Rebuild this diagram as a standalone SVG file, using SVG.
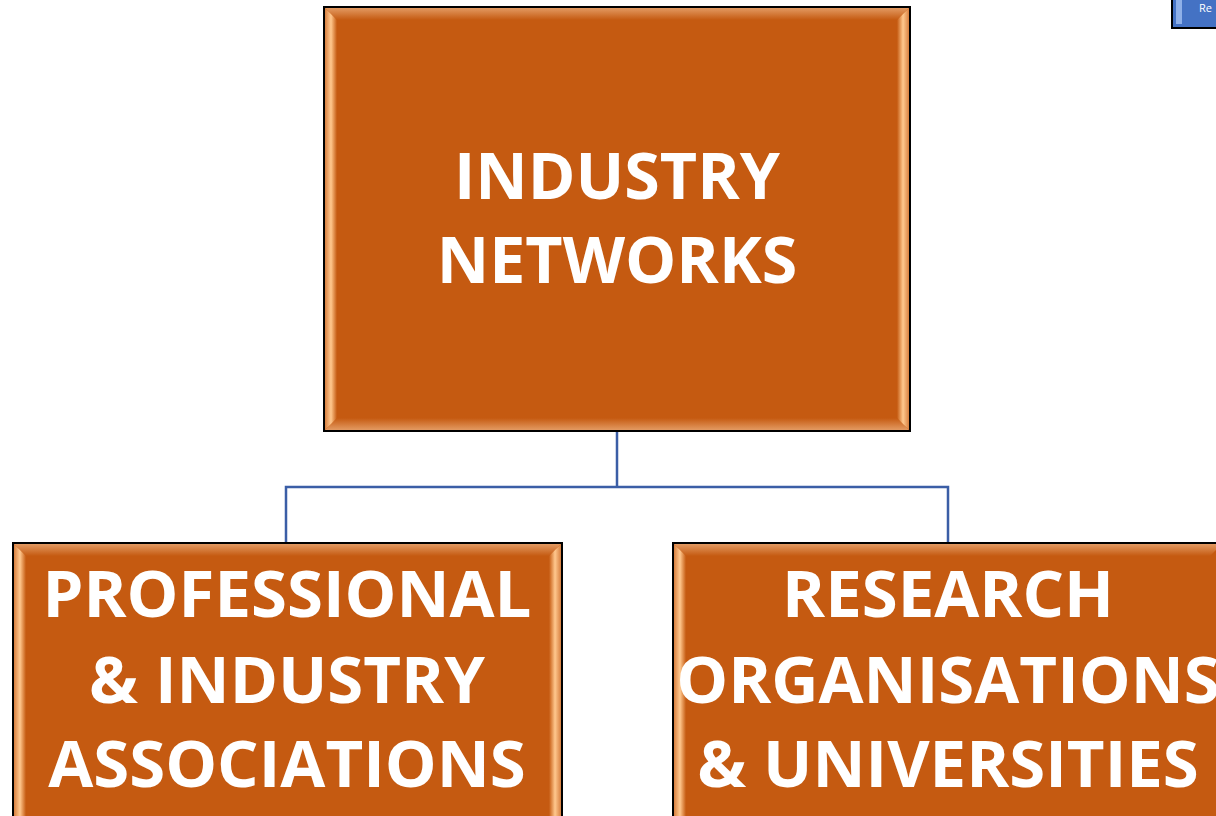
<svg xmlns="http://www.w3.org/2000/svg" width="1216" height="816" viewBox="0 0 1216 816">
<style>
.box{fill:#C55A11;stroke:#000;stroke-width:2}
.t{font-family:"Open Sans","Liberation Sans",sans-serif;font-weight:bold;fill:#fff;text-anchor:middle}
.conn{fill:none;stroke:#3B5EA6;stroke-width:2.5}
</style>
<defs>
<linearGradient id="gl" x1="0" y1="0" x2="1" y2="0"><stop offset="0" stop-color="#D88040"/><stop offset="0.5" stop-color="#FFC88E"/><stop offset="1" stop-color="#C55A11"/></linearGradient>
<linearGradient id="gr" x1="0" y1="0" x2="1" y2="0"><stop offset="0" stop-color="#C55A11"/><stop offset="0.5" stop-color="#FFC88E"/><stop offset="1" stop-color="#D88040"/></linearGradient>
<linearGradient id="gt" x1="0" y1="0" x2="0" y2="1"><stop offset="0" stop-color="#E39A62"/><stop offset="1" stop-color="#C55A11"/></linearGradient>
<linearGradient id="gb" x1="0" y1="0" x2="0" y2="1"><stop offset="0" stop-color="#C55A11"/><stop offset="1" stop-color="#E39A62"/></linearGradient>
</defs>
<rect x="1172" y="-4" width="50" height="32" fill="#4472C4" stroke="#000" stroke-width="2"/>
<rect x="1176" y="0" width="6" height="24" fill="#8FB0E8"/>
<text x="1199" y="12" font-family="'Open Sans','Liberation Sans',sans-serif" font-size="11" fill="#fff">Re</text>
<g id="connectors">
<path class="conn" d="M617,431 V487 M286,542 V487 H948 V542"/>
</g>
<g id="n1">
<rect class="box" x="324" y="7" width="586" height="424"/>
<polygon points="325,8 909,8 897,20 337,20" fill="url(#gt)"/>
<polygon points="325,430 909,430 897,418 337,418" fill="url(#gb)"/>
<polygon points="325,8 337,20 337,418 325,430" fill="url(#gl)"/>
<polygon points="909,8 897,20 897,418 909,430" fill="url(#gr)"/>
<text class="t" x="617" y="199" font-size="64.5">INDUSTRY</text>
<text class="t" x="617" y="283" font-size="64.5">NETWORKS</text>
</g>
<g id="n2">
<rect class="box" x="13" y="543" width="549" height="290"/>
<polygon points="14,544 561,544 549,556 26,556" fill="url(#gt)"/>
<polygon points="14,544 26,556 26,830 14,830" fill="url(#gl)"/>
<polygon points="561,544 549,556 549,830 561,830" fill="url(#gr)"/>
<text class="t" x="287" y="617" font-size="65.3">PROFESSIONAL</text>
<text class="t" x="287" y="703" font-size="65.3">&amp; INDUSTRY</text>
<text class="t" x="287" y="787" font-size="65.3">ASSOCIATIONS</text>
</g>
<g id="n3">
<rect class="box" x="673" y="543" width="550" height="290"/>
<polygon points="674,544 1222,544 1210,556 686,556" fill="url(#gt)"/>
<polygon points="674,544 686,556 686,830 674,830" fill="url(#gl)"/>
<text class="t" x="948" y="617" font-size="65.3">RESEARCH</text>
<text class="t" x="948" y="703" font-size="65.3">ORGANISATIONS</text>
<text class="t" x="948" y="787" font-size="65.3">&amp; UNIVERSITIES</text>
</g>
</svg>
